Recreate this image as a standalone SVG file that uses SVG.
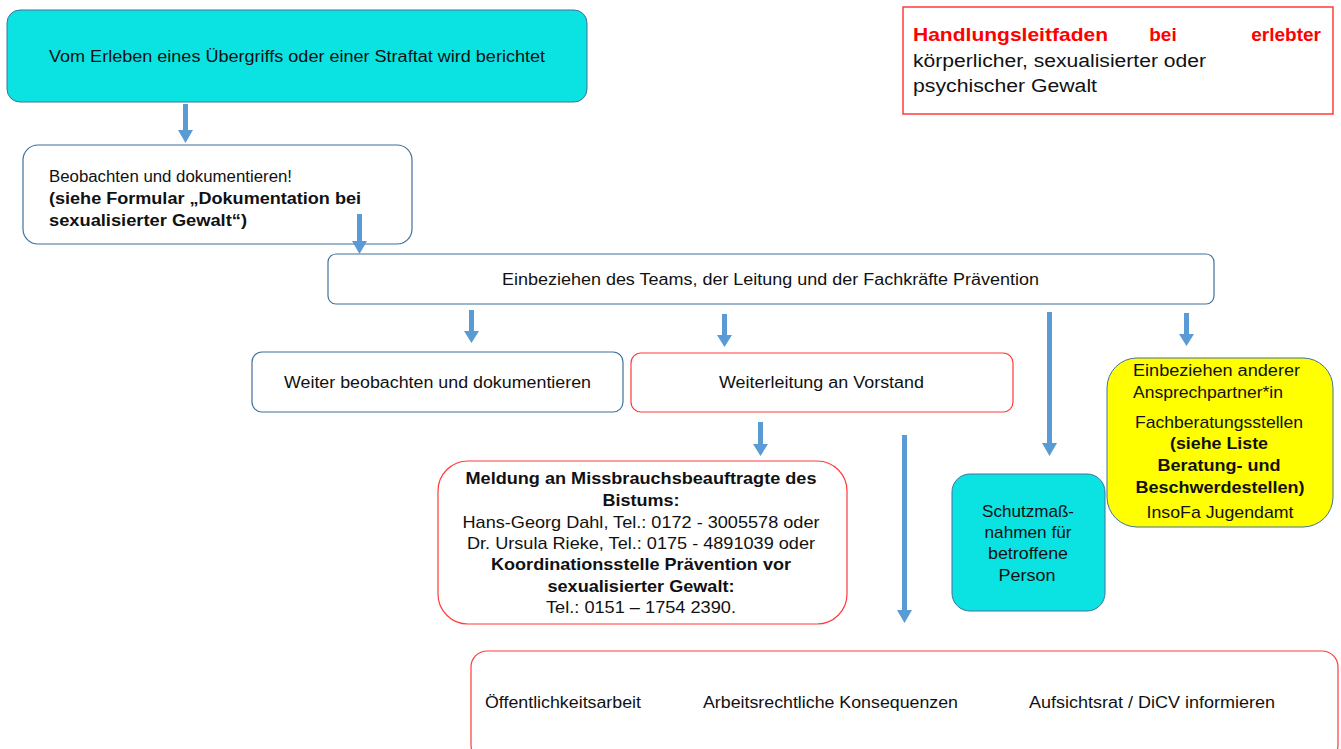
<svg xmlns="http://www.w3.org/2000/svg" width="1341" height="749" viewBox="0 0 1341 749">
<style>
text{font-family:"Liberation Sans",Arial,sans-serif;font-size:16px;fill:#111;}
.b{font-weight:bold;}
.c{text-anchor:middle;}
.blue{fill:#fff;stroke:#41719C;stroke-width:1.2;}
.red{fill:#fff;stroke:#FF3B3B;stroke-width:1.2;}
.cyan{fill:#0BE3E3;stroke:#41719C;stroke-width:1;}
.yel{fill:#FFFF00;stroke:#41719C;stroke-width:1;}
.arr{fill:#5B9BD5;}
.m{font-size:17px;}
</style>
<rect width="1341" height="749" fill="#fff"/>
<g id="title">
<rect x="903" y="7" width="430" height="107" fill="#fff" stroke="#FF3B3B" stroke-width="1.5"/>
<text x="913" y="41" class="b" style="fill:#FF0000;font-size:19px" textLength="195" lengthAdjust="spacingAndGlyphs">Handlungsleitfaden</text>
<text x="1163" y="41" class="b c" style="fill:#FF0000;font-size:19px">bei</text>
<text x="1321" y="41" class="b" style="fill:#FF0000;font-size:19px;text-anchor:end">erlebter</text>
<text x="913" y="67" style="font-size:18px" textLength="293" lengthAdjust="spacingAndGlyphs">körperlicher, sexualisierter oder</text>
<text x="913" y="92" style="font-size:18px" textLength="184" lengthAdjust="spacingAndGlyphs">psychischer Gewalt</text>
</g>
<g id="n1">
<rect x="7" y="10" width="580" height="92" rx="13" class="cyan"/>
<text x="49" y="62" textLength="496" lengthAdjust="spacingAndGlyphs">Vom Erleben eines Übergriffs oder einer Straftat wird berichtet</text>
</g>
<g id="n2">
<rect x="23" y="145" width="389" height="99" rx="15" class="blue"/>
<text x="49" y="182" textLength="243" lengthAdjust="spacingAndGlyphs">Beobachten und dokumentieren!</text>
<text x="49" y="204" class="b" textLength="312" lengthAdjust="spacingAndGlyphs">(siehe Formular „Dokumentation bei</text>
<text x="49" y="226" class="b" textLength="198" lengthAdjust="spacingAndGlyphs">sexualisierter Gewalt“)</text>
</g>
<g id="n3">
<rect x="328" y="254" width="886" height="50" rx="8" class="blue"/>
<text x="502" y="285" textLength="537" lengthAdjust="spacingAndGlyphs">Einbeziehen des Teams, der Leitung und der Fachkräfte Prävention</text>
</g>
<g id="n4">
<rect x="252" y="352" width="371" height="60" rx="10" class="blue"/>
<text x="284" y="388" textLength="307" lengthAdjust="spacingAndGlyphs">Weiter beobachten und dokumentieren</text>
</g>
<g id="n5">
<rect x="631" y="353" width="382" height="59" rx="10" class="red"/>
<text x="719" y="388" textLength="205" lengthAdjust="spacingAndGlyphs">Weiterleitung an Vorstand</text>
</g>
<g id="n6">
<rect x="438" y="461" width="409" height="163" rx="30" class="red"/>
<text x="641" y="484" class="b c m" textLength="351" lengthAdjust="spacingAndGlyphs">Meldung an Missbrauchsbeauftragte des</text>
<text x="641" y="506" class="b c m" textLength="77" lengthAdjust="spacingAndGlyphs">Bistums:</text>
<text x="641" y="528" class="c m" textLength="357" lengthAdjust="spacingAndGlyphs">Hans-Georg Dahl, Tel.:  0172 - 3005578 oder</text>
<text x="641" y="549" class="c m" textLength="348" lengthAdjust="spacingAndGlyphs">Dr. Ursula Rieke, Tel.: 0175 - 4891039 oder</text>
<text x="641" y="570" class="b c m" textLength="300" lengthAdjust="spacingAndGlyphs">Koordinationsstelle Prävention vor</text>
<text x="641" y="592" class="b c m" textLength="187" lengthAdjust="spacingAndGlyphs">sexualisierter Gewalt:</text>
<text x="641" y="613" class="c m" textLength="190" lengthAdjust="spacingAndGlyphs">Tel.:  0151 – 1754 2390.</text>
</g>
<g id="n7">
<rect x="952" y="474" width="153" height="137" rx="18" class="cyan"/>
<text x="1028" y="517" class="c m" textLength="92" lengthAdjust="spacingAndGlyphs">Schutzmaß-</text>
<text x="1028" y="538" class="c m" textLength="87" lengthAdjust="spacingAndGlyphs">nahmen für</text>
<text x="1028" y="559" class="c m" textLength="80" lengthAdjust="spacingAndGlyphs">betroffene</text>
<text x="1027" y="581" class="c m" textLength="57" lengthAdjust="spacingAndGlyphs">Person</text>
</g>
<g id="n8">
<rect x="1107" y="358" width="226" height="169" rx="30" class="yel"/>
<text x="1133" y="376" textLength="167" lengthAdjust="spacingAndGlyphs">Einbeziehen anderer</text>
<text x="1133" y="398" textLength="150" lengthAdjust="spacingAndGlyphs">Ansprechpartner*in</text>
<text x="1219" y="428" class="c m" textLength="168" lengthAdjust="spacingAndGlyphs">Fachberatungsstellen</text>
<text x="1219" y="449" class="b c m" textLength="98" lengthAdjust="spacingAndGlyphs">(siehe Liste</text>
<text x="1219" y="471" class="b c m" textLength="123" lengthAdjust="spacingAndGlyphs">Beratung- und</text>
<text x="1220" y="493" class="b c m" textLength="169" lengthAdjust="spacingAndGlyphs">Beschwerdestellen)</text>
<text x="1220" y="518" class="c m" textLength="147" lengthAdjust="spacingAndGlyphs">InsoFa  Jugendamt</text>
</g>
<g id="n9">
<rect x="471" y="651" width="867" height="110" rx="16" class="red"/>
<text x="485" y="708" textLength="156" lengthAdjust="spacingAndGlyphs">Öffentlichkeitsarbeit</text>
<text x="703" y="708" textLength="255" lengthAdjust="spacingAndGlyphs">Arbeitsrechtliche Konsequenzen</text>
<text x="1029" y="708" textLength="246" lengthAdjust="spacingAndGlyphs">Aufsichtsrat / DiCV informieren</text>
</g>
<g id="connectors" class="arr">
<polygon points="183,104 188,104 188,130 193,130 185.5,143 178,130 183,130"/>
<polygon points="357,214 362,214 362,241 367,241 359.5,254 352,241 357,241"/>
<polygon points="469,310 474,310 474,331 479,331 471.5,343 464,331 469,331"/>
<polygon points="722,314 727,314 727,335 732,335 724.5,347 717,335 722,335"/>
<polygon points="1047,312 1052,312 1052,443 1057,443 1049.5,456 1042,443 1047,443"/>
<polygon points="1184,313 1189,313 1189,334 1194,334 1186.5,346 1179,334 1184,334"/>
<polygon points="758,422 763,422 763,444 768,444 760.5,456 753,444 758,444"/>
<polygon points="902,435 907,435 907,610 912,610 904.5,623 897,610 902,610"/>
</g>
</svg>
